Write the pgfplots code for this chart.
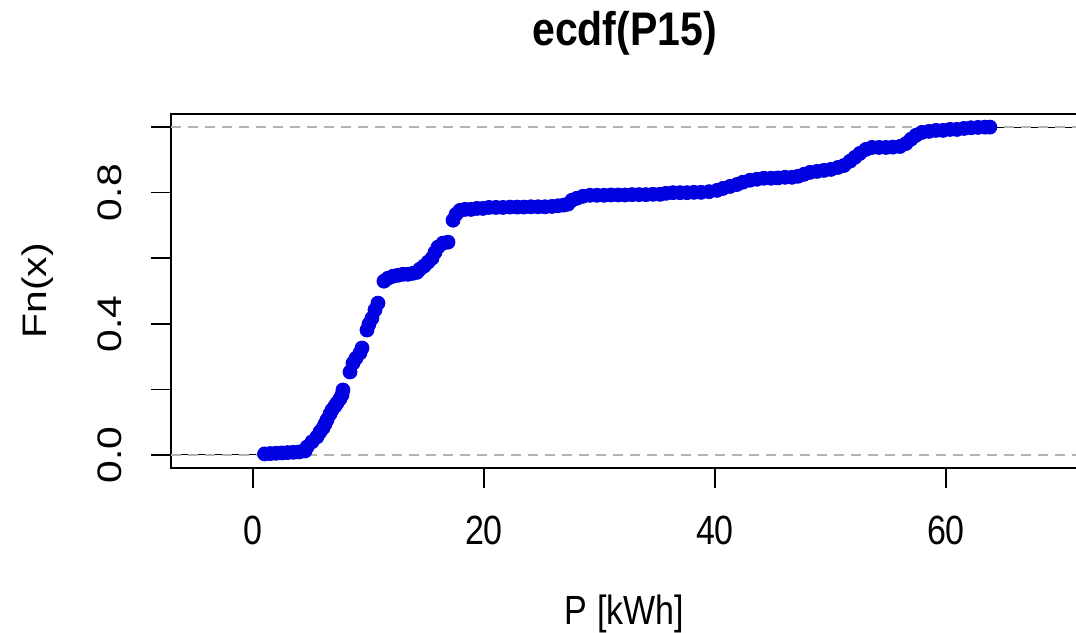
\documentclass[border=0pt]{standalone}
\usepackage{pgfplots}
\pgfplotsset{compat=1.18}
\usepackage{pgfplotstable}
\usepackage{fontspec}
\setmainfont{Liberation Sans}
\definecolor{ptblue}{RGB}{0,0,225}
\definecolor{gray70}{RGB}{179,179,179}

\pgfplotstableread{
x y
1.0 0.003
1.5 0.004
2.0 0.005
2.5 0.006
3.0 0.007
3.5 0.008
4.0 0.009
4.5 0.012
4.68 0.024
5.11 0.040
5.54 0.055
5.80 0.070
6.06 0.082
6.23 0.094
6.41 0.107
6.67 0.125
6.84 0.137
7.10 0.149
7.27 0.158
7.53 0.171
7.71 0.183
7.79 0.198
8.40 0.253
8.66 0.280
8.92 0.295
9.26 0.311
9.44 0.326
9.87 0.381
10.04 0.399
10.30 0.417
10.56 0.442
10.82 0.463
11.34 0.530
11.69 0.539
12.12 0.545
12.55 0.548
12.99 0.551
13.42 0.551
13.85 0.554
14.20 0.557
14.46 0.567
14.81 0.576
15.15 0.588
15.50 0.600
15.76 0.618
16.02 0.634
16.45 0.646
16.88 0.649
17.32 0.716
17.58 0.734
17.92 0.746
18.35 0.749
18.87 0.749
19.39 0.752
19.91 0.752
20.43 0.755
21.04 0.755
21.64 0.755
22.25 0.756
22.86 0.756
23.46 0.756
24.07 0.757
24.68 0.757
25.28 0.757
25.89 0.758
26.41 0.760
26.90 0.762
27.27 0.765
27.62 0.777
28.05 0.783
28.57 0.789
29.18 0.792
29.78 0.792
30.39 0.792
30.99 0.793
31.60 0.793
32.21 0.793
32.81 0.794
33.42 0.794
34.03 0.794
34.63 0.795
35.24 0.795
35.76 0.798
36.36 0.800
36.97 0.800
37.58 0.800
38.18 0.801
38.79 0.801
39.48 0.803
40.17 0.807
40.69 0.813
41.30 0.819
41.90 0.825
42.42 0.832
43.03 0.838
43.64 0.841
44.24 0.844
44.85 0.844
45.45 0.845
46.06 0.847
46.67 0.847
47.19 0.850
47.71 0.856
48.23 0.862
48.83 0.865
49.44 0.868
50.04 0.871
50.65 0.877
51.17 0.883
51.69 0.896
52.12 0.908
52.55 0.920
53.07 0.932
53.59 0.938
54.20 0.938
54.81 0.938
55.41 0.939
56.02 0.941
56.54 0.950
56.97 0.963
57.40 0.975
57.92 0.984
58.53 0.987
59.13 0.990
59.74 0.990
60.35 0.993
60.95 0.993
61.56 0.996
62.16 0.998
62.77 0.999
63.38 1.000
63.80 1.000
}\ecdfdata

\begin{document}
\begin{tikzpicture}
\useasboundingbox (-85.5pt,-82pt) rectangle (452.5pt,234pt);
\begin{axis}[
  at={(0pt,0pt)}, anchor=south west,
  scale only axis,
  width=453.5pt, height=177pt,
  xmin=-7.1, xmax=71.43,
  ymin=-0.04, ymax=1.04,
  axis line style={black, line width=0.8pt},
  tick style={black, line width=0.8pt},
  tick align=outside,
  major tick length=10pt,
  xtick={0,20,40,60},
  xticklabels={0,20,40,60},
  ytick={0,0.2,0.4,0.6,0.8,1.0},
  yticklabels={0.0,,0.4,,0.8,},
  xtick pos=bottom, ytick pos=left,
  /pgf/number format/assume math mode=true,
  xticklabel style={font=\fontsize{17}{20}\selectfont, anchor=center, yshift=-21pt, yscale=1.2},
  yticklabel style={font=\fontsize{17}{20}\selectfont, anchor=center, xshift=-20.5pt, rotate=90, xscale=1.2},
  title={\textbf{ecdf(P15)}},
  title style={font=\fontsize{20.5}{24}\selectfont, at={(axis description cs:0.5,1.195)}, anchor=center, yscale=1.15},
  xlabel={P [kWh]},
  xlabel style={font=\fontsize{17}{20}\selectfont, at={(axis description cs:0.5,-0.412)}, anchor=center, yscale=1.2},
  ylabel={Fn(x)},
  ylabel style={font=\fontsize{17}{20}\selectfont, at={(axis description cs:-0.147,0.5)}, anchor=center, xscale=1.2},
  clip=true,
]
\addplot[black, line width=0.6pt] coordinates {(-7.1,0) (1.0,0)};
\addplot[black, line width=0.6pt] coordinates {(63.8,1) (71.43,1)};
\addplot[only marks, mark=*, mark size=3.5pt, mark options={draw=ptblue, fill=ptblue}] table[x=x, y=y] {\ecdfdata};
\addplot[gray70, line width=0.8pt, dash pattern=on 5pt off 3.5pt] coordinates {(-7.1,0) (71.43,0)};
\addplot[gray70, line width=0.8pt, dash pattern=on 5pt off 3.5pt] coordinates {(-7.1,1) (71.43,1)};
\end{axis}
\end{tikzpicture}
\end{document}
